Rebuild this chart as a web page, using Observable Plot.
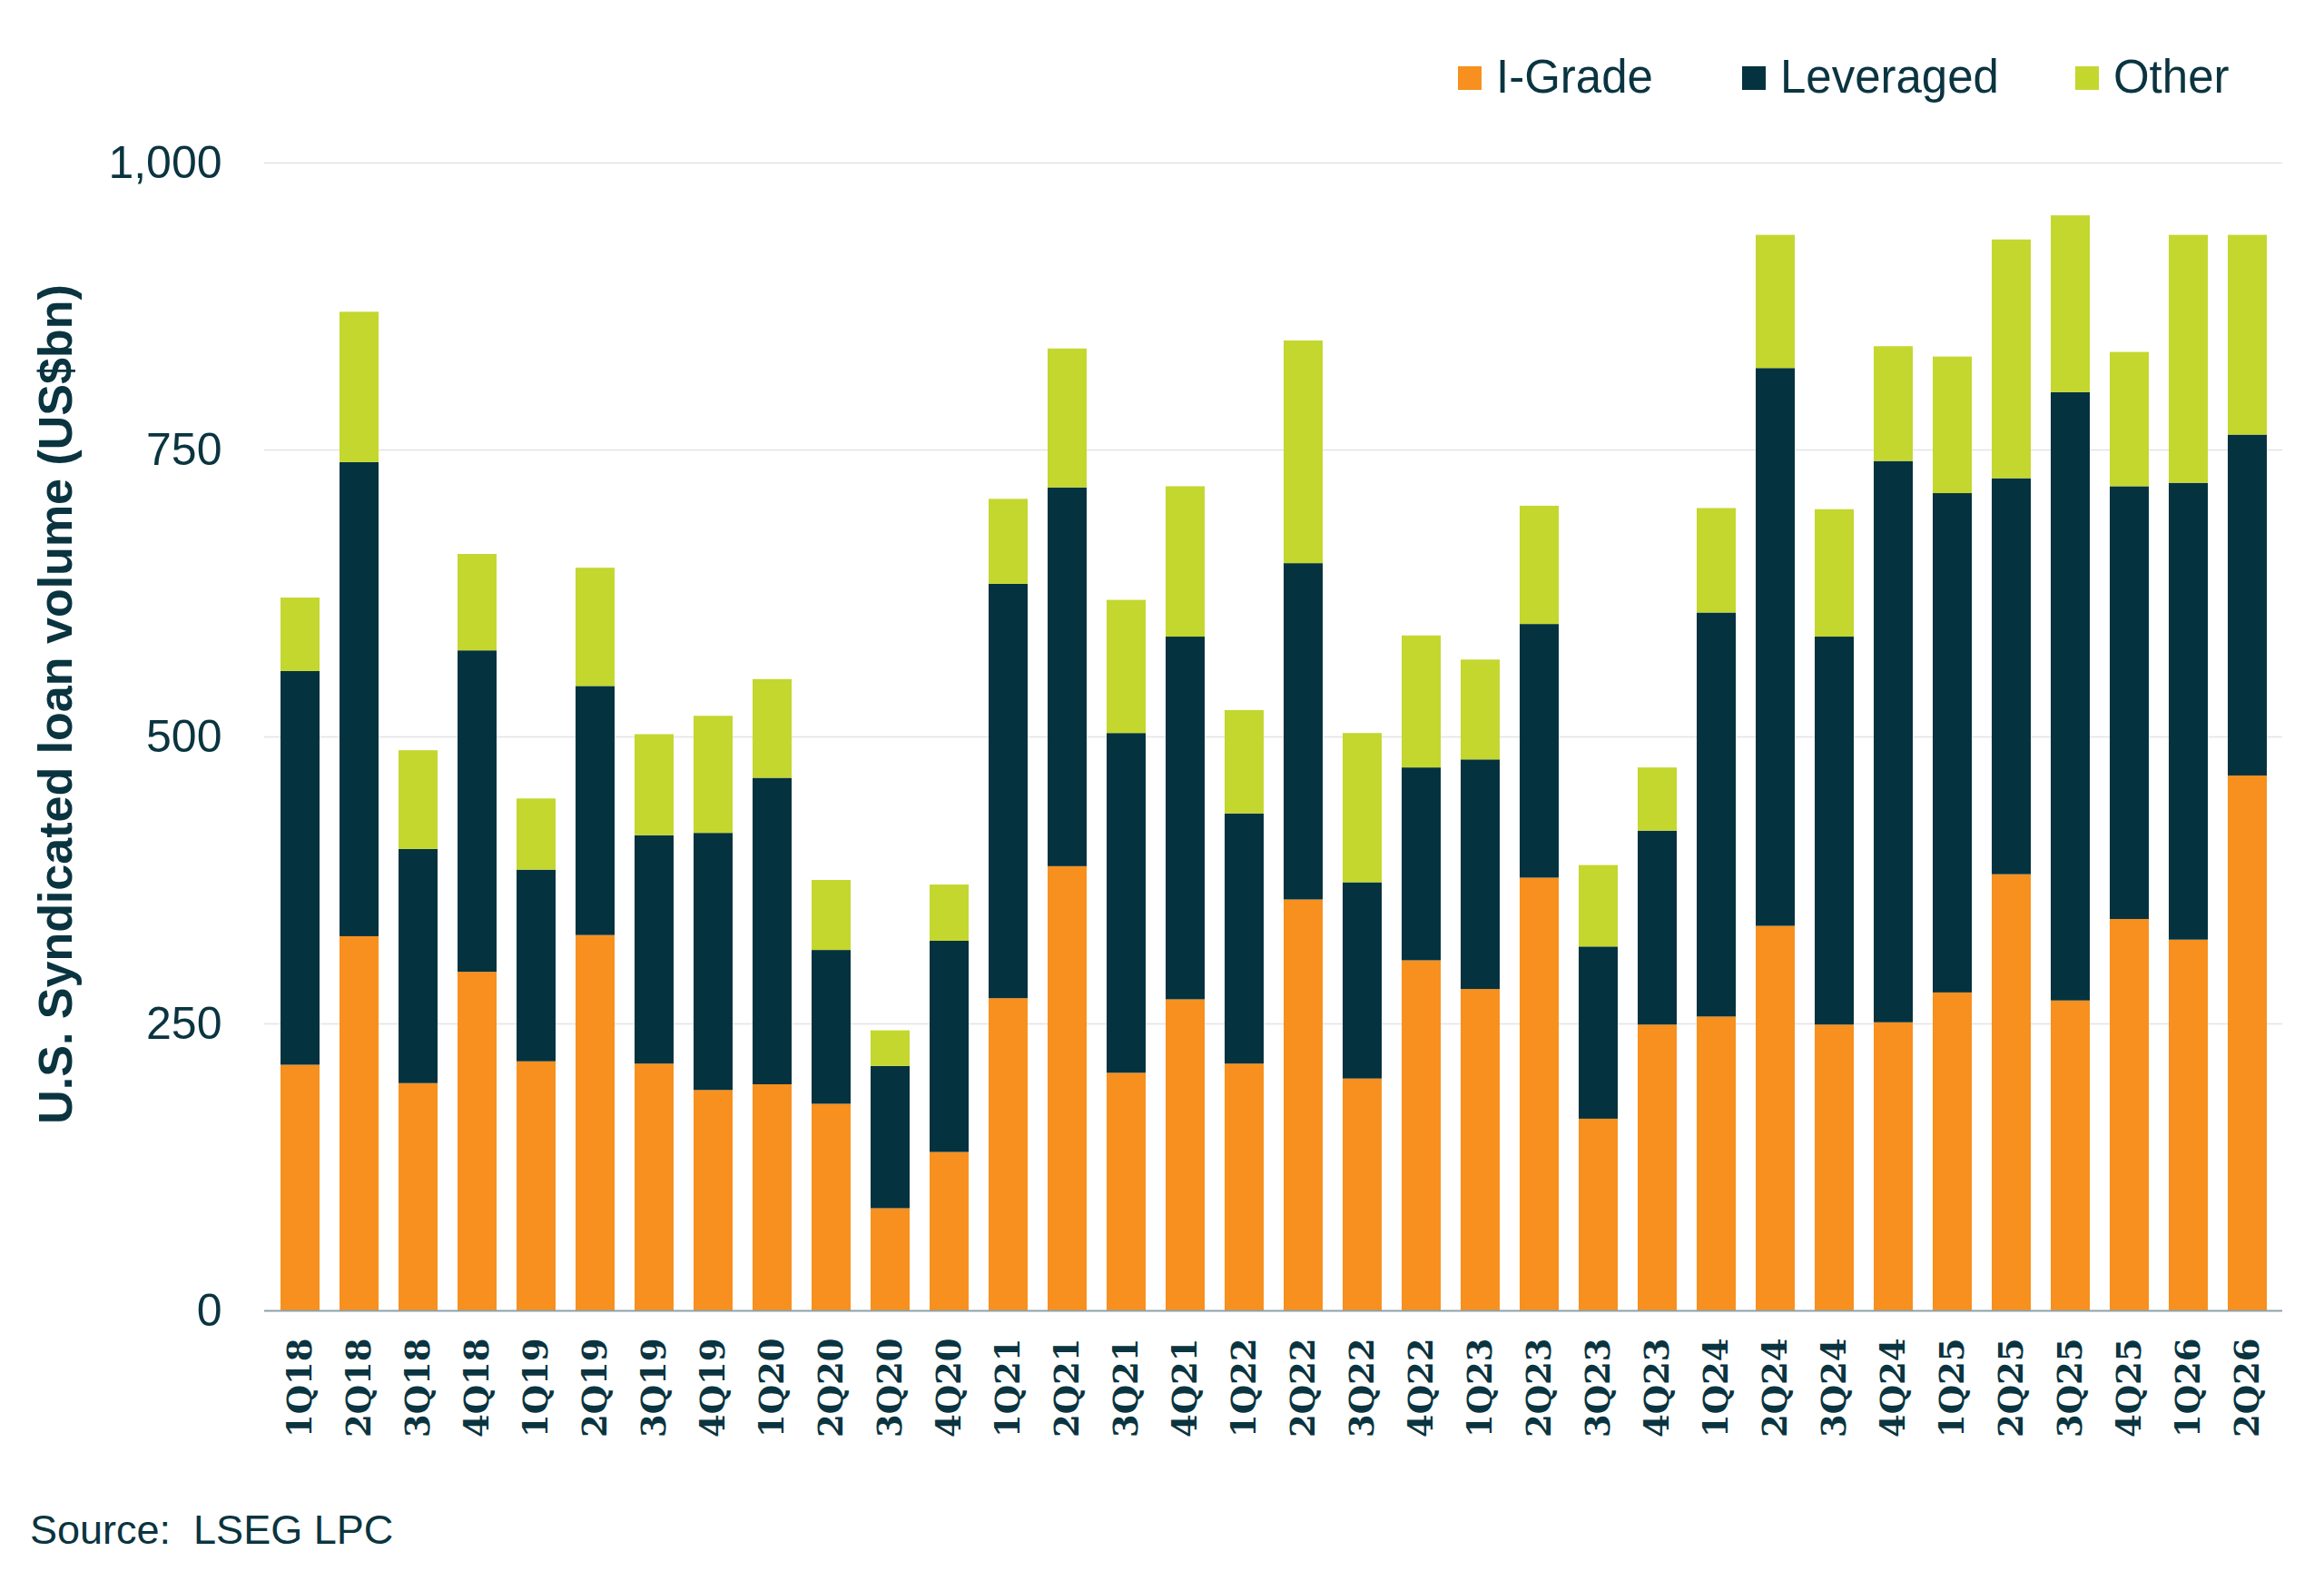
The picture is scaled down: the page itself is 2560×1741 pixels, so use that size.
<!DOCTYPE html>
<html>
<head>
<meta charset="utf-8">
<script src="https://cdn.jsdelivr.net/npm/d3@7"></script>
<script src="https://cdn.jsdelivr.net/npm/@observablehq/plot@0.6"></script>
<style>
  html, body { margin: 0; padding: 0; background: #ffffff; }
  #page { position: relative; width: 2560px; height: 1741px; overflow: hidden; background: #ffffff; }
  #legend {
    position: absolute; left: 1606px; top: 59px; height: 51px;
    display: flex; align-items: center;
    font-family: "Liberation Sans", Arial, sans-serif; font-size: 51px; line-height: 51px;
    color: #0a3440;
  }
  #legend .item { display: flex; align-items: center; }
  #legend .item:nth-child(1) { margin-right: 98px; }
  #legend .item:nth-child(2) { margin-right: 84px; }
  #legend .sw { width: 26px; height: 26px; margin-right: 16px; margin-top: 3px; }
  #chart { position: absolute; left: 0; top: 150px; }
  #source {
    position: absolute; left: 33px; top: 1662px;
    font-family: "Liberation Sans", Arial, sans-serif; font-size: 45px; line-height: 45px;
    color: #0a3440; white-space: pre;
  }
</style>
</head>
<body>
<div id="page">
  <div id="legend"></div>
  <div id="chart"></div>
  <div id="source">Source:  LSEG LPC</div>
</div>
<script>
// Quarterly U.S. syndicated loan volume, US$bn
const quarters = [
  "1Q18","2Q18","3Q18","4Q18","1Q19","2Q19","3Q19","4Q19",
  "1Q20","2Q20","3Q20","4Q20","1Q21","2Q21","3Q21","4Q21",
  "1Q22","2Q22","3Q22","4Q22","1Q23","2Q23","3Q23","4Q23",
  "1Q24","2Q24","3Q24","4Q24","1Q25","2Q25","3Q25","4Q25",
  "1Q26","2Q26"
];
const series = ["I-Grade", "Leveraged", "Other"];
const seriesColors = ["#f7901e", "#04323f", "#c3d72f"];

const iGrade = [214,326,198,295,217,327,215,192,197,180,89,138,272,387,207,271,
                215,358,202,305,280,377,167,249,256,335,249,251,277,380,270,341,323,466];
const leveraged = [343,413,204,280,167,217,199,224,267,134,124,184,361,330,296,316,
                   218,293,171,168,200,221,150,169,352,486,338,489,435,345,530,377,398,297];
const other = [64,131,86,84,62,103,88,102,86,61,31,49,74,121,116,131,
               90,194,130,115,87,103,71,55,91,116,111,100,119,208,154,117,216,174];

const yTicks = [0, 250, 500, 750, 1000];
const yTitle = "U.S. Syndicated loan volume (US$bn)";

// Long-format rows, stacked in series order within each quarter
const seriesValues = [iGrade, leveraged, other];
const rows = [];
quarters.forEach((q, i) => {
  series.forEach((s, j) => rows.push({quarter: q, series: s, value: seriesValues[j][i]}));
});

const ink = "#0a3440";

const chart = Plot.plot({
  width: 2560,
  height: 1463,
  marginTop: 29,
  marginBottom: 170,
  marginLeft: 291,
  marginRight: 46,
  style: {fontFamily: "'Liberation Sans', Arial, sans-serif", fontSize: "50px", color: ink, background: "#ffffff"},
  x: {type: "band", domain: quarters, paddingInner: 0.34, paddingOuter: 0.15, label: null},
  y: {domain: [0, 1000], label: null},
  color: {domain: series, range: seriesColors},
  marks: [
    Plot.gridY(yTicks.filter(d => d > 0), {stroke: "#e3e3e3", strokeOpacity: 1, strokeWidth: 1.5}),
    Plot.barY(rows, {x: "quarter", y: "value", fill: "series"}),
    Plot.ruleY([0], {stroke: "#8ea1a9", strokeWidth: 2}),
    Plot.axisY({ticks: yTicks, tickSize: 0, tickPadding: 47, tickFormat: d3.format(","),
                fontSize: 50, fill: ink, label: null}),
    Plot.axisX({tickRotate: -90, tickSize: 0, tickPadding: 30, label: null,
                fontFamily: "'DejaVu Serif', serif", fontWeight: "bold", fontSize: 37, fill: ink}),
    // Vertical axis title, centred a little above the middle of the frame
    Plot.text([yTitle], {frameAnchor: "left", textAnchor: "middle", lineAnchor: "middle",
                         rotate: -90, dx: -229, dy: -36,
                         fontSize: 52, fontWeight: "bold", fill: ink})
  ]
});
document.getElementById("chart").appendChild(chart);

// Legend built from the same colour scale
const legend = document.getElementById("legend");
const color = chart.scale("color");
series.forEach((s, i) => {
  const item = document.createElement("div");
  item.className = "item";
  const sw = document.createElement("div");
  sw.className = "sw";
  sw.style.background = color.range[i];
  const label = document.createElement("span");
  label.textContent = s;
  item.appendChild(sw);
  item.appendChild(label);
  legend.appendChild(item);
});
</script>
</body>
</html>
